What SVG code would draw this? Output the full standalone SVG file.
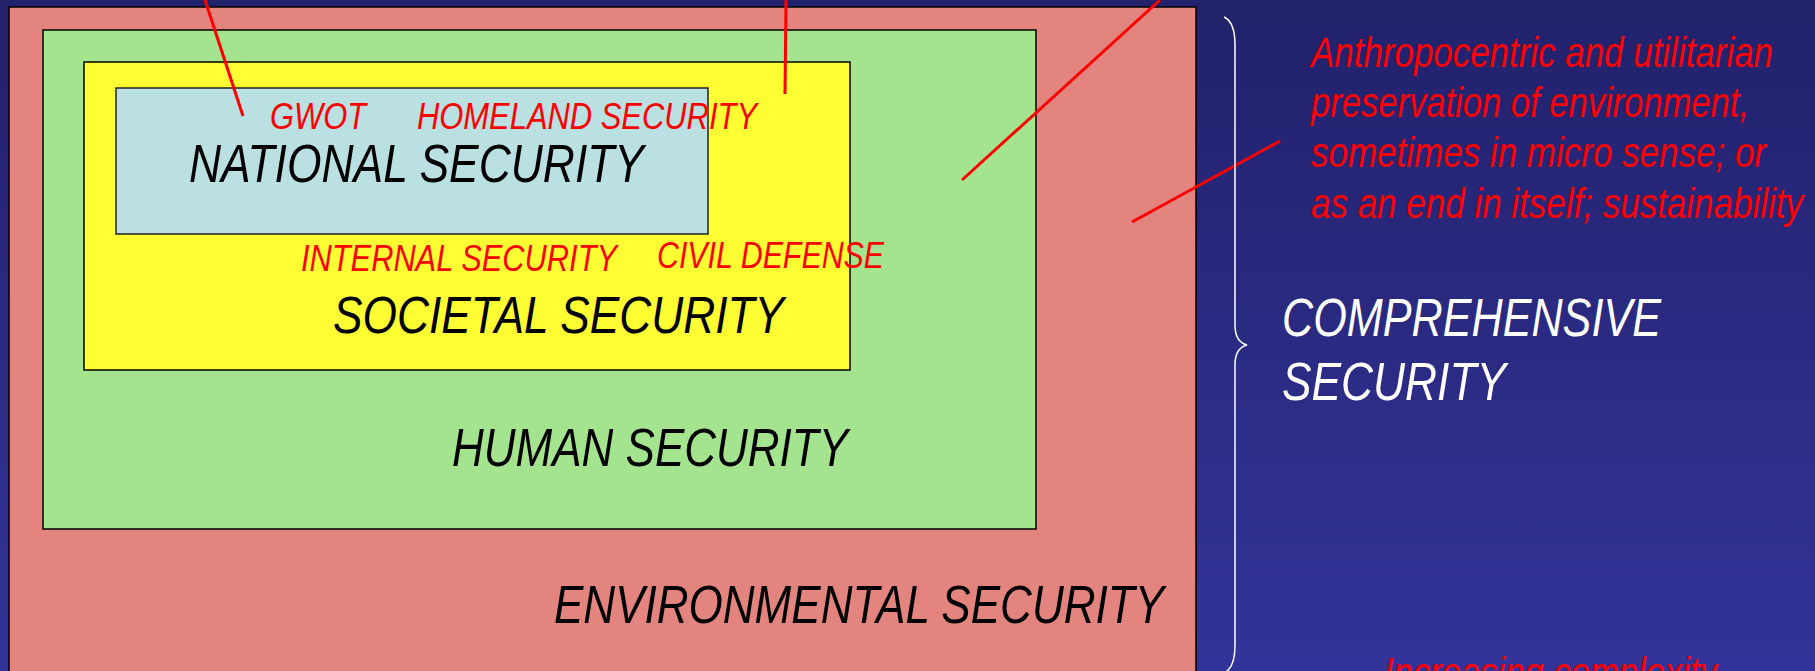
<svg xmlns="http://www.w3.org/2000/svg" width="1815" height="671" viewBox="0 0 1815 671">
<defs>
<linearGradient id="bg" x1="0" y1="0" x2="0" y2="1">
<stop offset="0" stop-color="#22216B"/>
<stop offset="1" stop-color="#333399"/>
</linearGradient>
</defs>
<style>
.box{stroke:#000;stroke-width:1.5}
text{font-family:"Liberation Sans",Arial,sans-serif;font-style:italic}
.lbl{fill:#000}
.red{fill:#FF0000}
.wht{fill:#FFFFFF}
.ln{stroke:#FF0000;stroke-width:3;fill:none}
</style>
<rect x="0" y="0" width="1815" height="671" fill="url(#bg)"/>
<g id="environmental">
<rect class="box" x="9" y="7" width="1187" height="680" fill="#E3857E"/>
<text class="lbl" x="554" y="623" font-size="53" textLength="610" lengthAdjust="spacingAndGlyphs">ENVIRONMENTAL SECURITY</text>
</g>
<g id="human">
<rect class="box" x="43" y="30" width="993" height="499" fill="#A4E48E"/>
<text class="lbl" x="452" y="466" font-size="53" textLength="396" lengthAdjust="spacingAndGlyphs">HUMAN SECURITY</text>
</g>
<g id="societal">
<rect class="box" x="84" y="62" width="766" height="308" fill="#FFFF33"/>
<text class="lbl" x="333" y="333" font-size="52" textLength="451" lengthAdjust="spacingAndGlyphs">SOCIETAL SECURITY</text>
<text class="red" x="301" y="271" font-size="37" textLength="316" lengthAdjust="spacingAndGlyphs">INTERNAL SECURITY</text>
<text class="red" x="657" y="268" font-size="36" textLength="227" lengthAdjust="spacingAndGlyphs">CIVIL DEFENSE</text>
</g>
<g id="national">
<rect x="116" y="88" width="592" height="146" fill="#BAE0E2" stroke="#222" stroke-width="1.5"/>
<text class="lbl" x="189" y="182" font-size="54" textLength="455" lengthAdjust="spacingAndGlyphs">NATIONAL SECURITY</text>
<text class="red" x="270" y="129" font-size="36" textLength="96" lengthAdjust="spacingAndGlyphs">GWOT</text>
<text class="red" x="417" y="129" font-size="36" textLength="340" lengthAdjust="spacingAndGlyphs">HOMELAND SECURITY</text>
</g>
<g id="connectors">
<line class="ln" x1="205" y1="0" x2="243" y2="116"/>
<line class="ln" x1="786" y1="0" x2="785" y2="94"/>
<line class="ln" x1="1160" y1="0" x2="962" y2="180"/>
<line class="ln" x1="1280" y1="141" x2="1132" y2="222"/>
</g>
<g id="brace">
<path d="M1224,17 Q1235,22 1235,45 L1235,325 Q1235,342 1247,345 Q1235,348 1235,365 L1235,645 Q1235,668 1224,673" fill="none" stroke="#FFFFFF" stroke-width="1.5"/>
</g>
<g id="comprehensive">
<text class="wht" x="1282" y="336" font-size="53" textLength="379" lengthAdjust="spacingAndGlyphs">COMPREHENSIVE</text>
<text class="wht" x="1282" y="400" font-size="53" textLength="224" lengthAdjust="spacingAndGlyphs">SECURITY</text>
</g>
<g id="note">
<text class="red" x="1311" y="67" font-size="42" textLength="462" lengthAdjust="spacingAndGlyphs">Anthropocentric and utilitarian</text>
<text class="red" x="1311" y="117" font-size="42" textLength="438" lengthAdjust="spacingAndGlyphs">preservation of environment,</text>
<text class="red" x="1311" y="167" font-size="42" textLength="455" lengthAdjust="spacingAndGlyphs">sometimes in micro sense; or</text>
<text class="red" x="1311" y="218" font-size="42" textLength="492" lengthAdjust="spacingAndGlyphs">as an end in itself; sustainability</text>
</g>
<g id="complexity">
<text class="red" x="1384" y="687" font-size="42" textLength="333" lengthAdjust="spacingAndGlyphs">Increasing complexity</text>
</g>
</svg>
